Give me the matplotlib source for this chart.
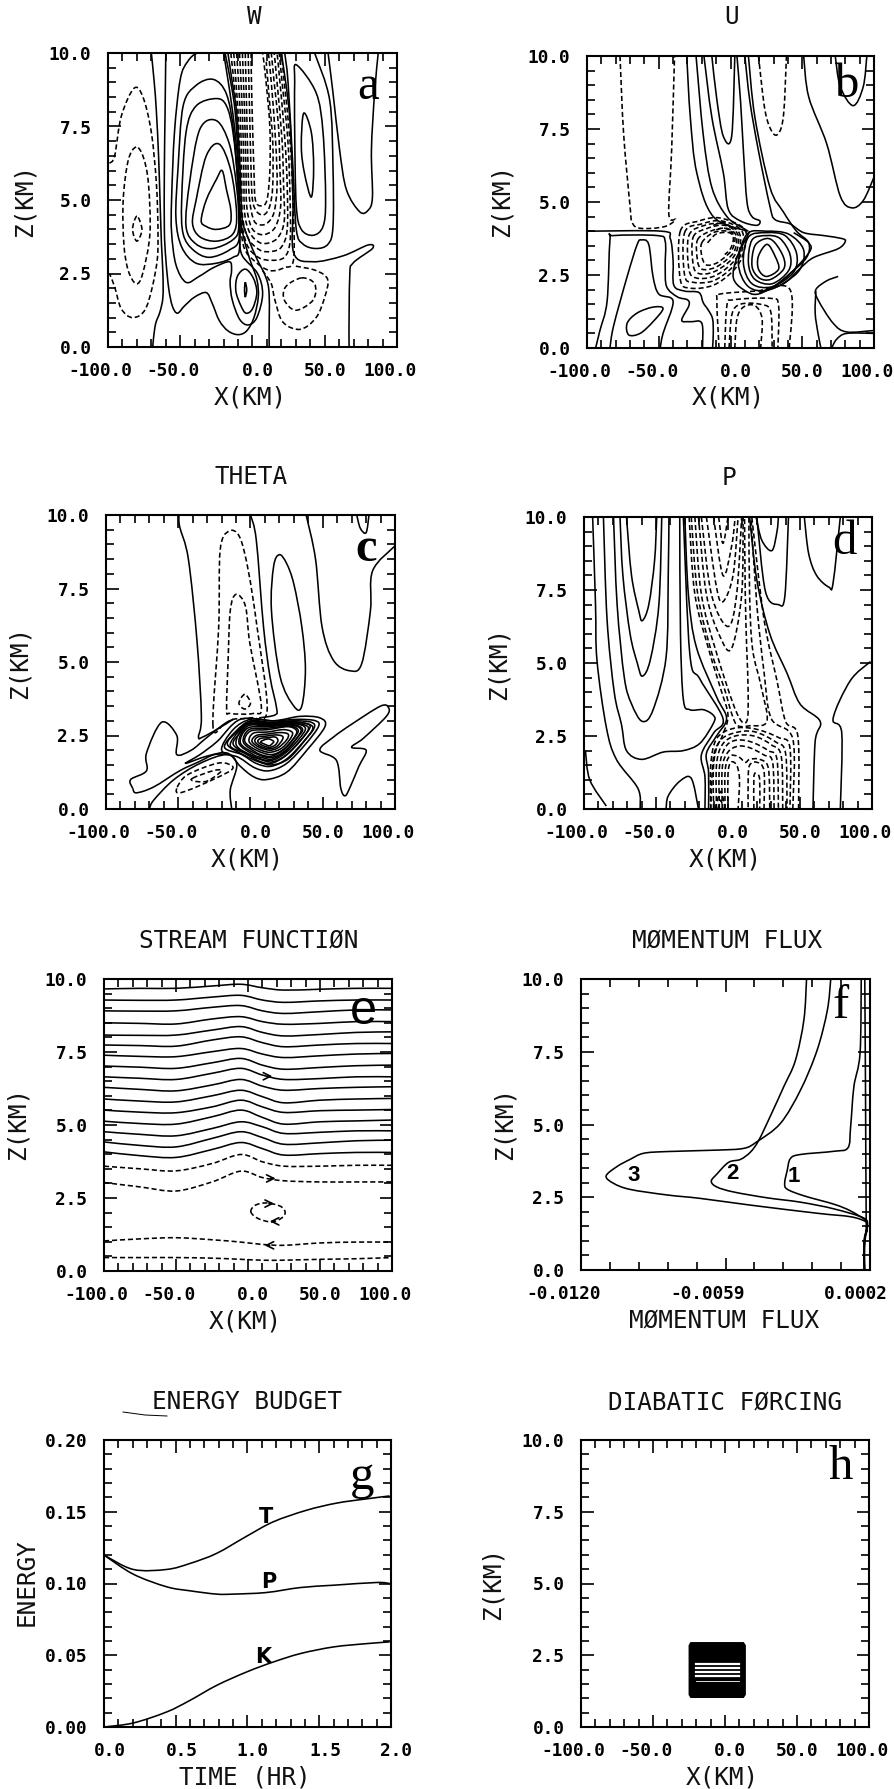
import matplotlib
matplotlib.use("Agg")
import matplotlib.pyplot as plt
from matplotlib.lines import Line2D
from matplotlib.path import Path
from matplotlib.patches import PathPatch
from matplotlib.transforms import ScaledTranslation

# ---------- panel a : W ----------
W_SOLID = [
 [(-70,10),(-68,9),(-66.5,8),(-65,6.5),(-64,5),(-63,3.5),(-62,2.5),(-62,1.7),(-64,1.2),(-67,.8),(-68.5,.3),(-69,0)],
 [(-60,10),(-60.5,8),(-61,6),(-61,4),(-60,3),(-58,2),(-55.5,1.4),(-52,1.15),(-47,1.4),(-40,1.7),(-32,1.85),(-28,1.5),(-23,.9),(-17,.55),(-10,.42),(-4,.55),(1,1),(4,1.7),(3,2.3),(-2,3),(-6,3.7),(-8.5,4.4),(-9,5),(-10,6.5),(-12,8),(-15,9),(-19,10)],
 [(12,0),(11.5,.2),(11.5,1.8),(9,2.4),(3,3),(-3,3.7),(-7,4.3),(-8,5.2),(-9,6.5),(-11,8),(-14,9),(-17,10)],
 [(-27,10),(-38,10),(-45,9.7),(-50,9.1),(-54,7.3),(-56,5),(-56,3.9),(-53,2.8),(-46,2.2),(-37,2.4),(-27,2.7),(-16,2.9),(-14.5,2.6),(-15.5,2.2),(-14,1.6),(-9,.95),(-3,.75),(3,1),(7,1.8),(3.5,2.5),(-7,3.1),(-9,3.7),(-9,4.5),(-10,6.2),(-13.5,7.9),(-18,9.4),(-20,10)],
 [(-27,9.1),(-39,8.9),(-48,8.2),(-51.5,6.1),(-53,4.4),(-49,3.4),(-39,2.85),(-25,2.85),(-13.5,3.05),(-9,3.35),(-9.5,5),(-13,7.3),(-18,8.6),(-27,9.1)],
 [(-25,8.45),(-39,8.2),(-46,7.3),(-49,5),(-48,3.85),(-41,3.3),(-30,3.05),(-16,3.3),(-9,3.75),(-10,5.5),(-13.5,7.3),(-18,8.2),(-25,8.45)],
 [(-25,7.7),(-36.5,7.4),(-43.5,5.6),(-46,4.1),(-39,3.5),(-27.5,3.35),(-13.5,3.65),(-9.5,4.1),(-11,5.45),(-16,6.9),(-25,7.7)],
 [(-23,6.9),(-32,6.5),(-39,5),(-41.5,4.2),(-36.5,3.75),(-25,3.6),(-13.5,3.85),(-11,4.55),(-15,6),(-23,6.9)],
 [(-21,6),(-25,5.7),(-32,5),(-35.5,4.3),(-32,4.1),(-25,4),(-16,4.15),(-15,4.65),(-18,5.35),(-21,6)],
 [(-5,2.65),(-10.5,2.4),(-11.5,1.9),(-8,1.4),(-4.5,1.15),(0,1.3),(3,1.85),(.5,2.35),(-5,2.65)],
 [(-5,2.2),(-5.5,1.95),(-5,1.7),(-4,1.95),(-5,2.2)],
 [(20,10),(25.7,7.85),(28,5),(28.5,3.2),(41.8,2.9),(62.6,3.1),(80,3.47),(83,3.35),(69.5,2.85),(67.3,2.4),(66.8,.2),(67.7,0)],
 [(43,10),(53.4,8.4),(55.7,6.1),(55.7,4.1),(52.3,3.5),(44,3.35),(35,3.5),(30.3,4),(28,6.1),(24.6,9),(22.3,10)],
 [(30.3,9.6),(44,8.65),(48.8,7.3),(50.6,5),(48.8,4.1),(42,3.8),(33.8,4),(30.3,4.8),(29.2,7.3),(29.2,9),(30.3,9.6)],
 [(35.4,7.95),(40.7,7.3),(42.3,6.1),(40.7,5.1),(36,5.9),(33.8,6.8),(35.4,7.95)],
 [(52.3,10),(55.7,8.65),(60.3,6.7),(65,5.35),(74.2,4.6),(80,4.65),(83,5.1),(82.3,6.7),(84.5,8.65),(87,10)],
]
W_DASH = [
 [(-99,6.25),(-95.4,6.5),(-90.8,7.85),(-82,8.8),(-75.8,8.5),(-70,7.3),(-66.5,5.55),(-65.4,3.85),(-66.5,2.75),(-73.5,1.35),(-82.7,1),(-90.8,1.3),(-95.4,2.05),(-99,2.5)],
 [(-80.5,6.8),(-86,6.35),(-89.5,5),(-89,3.5),(-86,2.6),(-80.5,2.15),(-76,2.5),(-71,3.85),(-72,5.55),(-75.5,6.45),(-80.5,6.8)],
 [(-80,4.45),(-83,4),(-80,3.6),(-76.5,4),(-80,4.45)],
 [(30,2.75),(44,2.6),(52,2.3),(50,1.7),(44,1),(33,.6),(21,.85),(15.5,1.6),(13,2.15),(7,2.6)],
 [(34,2.35),(43,2.15),(42,1.6),(30,1.25),(22,1.6),(23,2.05),(34,2.35)],
 [(-15,10),(-11,8),(-9,6),(-8.5,4.5),(-6,3.4),(2,2.9),(12,2.6),(22,2.7),(28.5,3),(28,5),(26,7),(22,9),(20,10)],
 [(-13,10),(-10,8),(-8.5,6),(-8,4.5),(-4,3.5),(4,3.05),(13,2.95),(22,3.05),(26,3.6),(26,5),(24.5,7),(20.5,9),(18.5,10)],
 [(-11,10),(-8.5,8),(-7.5,6),(-7,4.5),(-3,3.7),(5,3.3),(13,3.25),(20,3.4),(24,4),(24,5.5),(22.5,7),(19,9),(17,10)],
 [(-9,10),(-7,8),(-6,6),(-5.5,4.6),(-2,3.9),(5,3.55),(12,3.55),(18,3.75),(22,4.3),(21.5,5.5),(20.5,7),(17,9),(15,10)],
 [(-7,10),(-5.5,8),(-4.5,6),(-4,4.8),(-1,4.1),(4,3.85),(10,3.85),(16,4.1),(19.5,4.8),(19,6),(18,7.5),(15,9),(13,10)],
 [(-5,10),(-4,8),(-3,6),(-2,5),(1,4.3),(6,4.15),(11,4.25),(15,4.6),(17,5.5),(16,7),(13,9),(11,10)],
 [(-3,10),(-2,8),(-1,6),(0,5),(3,4.6),(8,4.5),(12,4.8),(14,5.5),(14,7),(11.5,8.5),(9.5,9.7)],
 [(-1,10),(-.5,8.5),(1,6),(2,5),(6,4.8),(10,5),(12,6),(12,7.5),(9,9.2),(7,10)],
]

# ---------- panel b : U ----------
U_SOLID = [
 [(-100,4),(-48,4),(-42,3.75),(-40,3),(-39.5,2.15),(-32,1.95),(-22,1.9),(-19,1.55),(-15.5,1.3),(-12.5,1),(-12,.5),(-12.5,0)],
 [(-94,0),(-91,.6),(-86,1.6),(-84,3.7),(-81.5,3.85),(-51,3.85),(-45.5,3.65),(-45.5,2.8),(-44.5,2.1),(-37,1.75),(-30,1.65),(-29,1.45),(-34,.95),(-28,.9),(-20,.85),(-19.5,0)],
 [(-84,0),(-81.5,.75),(-72,2.45),(-65,3.55),(-62,3.7),(-57,3.55),(-54,2.45),(-50,1.85),(-40,1.6),(-47,.5),(-49,0)],
 [(-47,1.35),(-54,1.4),(-65,1.2),(-72,.85),(-71,.45),(-63,.5),(-54,.9),(-47,1.35)],
 [(-30.5,10),(-28,7.9),(-23.5,6),(-12,4.5),(11.5,4)],
 [(-24,10),(-19,7.3),(-13,5.5),(-2.5,4.5),(9,4.1),(12.5,4)],
 [(-18.5,10),(-13,7.9),(-5,6),(-1.5,4.75),(7,4.35),(18,4.2),(20.5,4.35),(15,4.5),(11.5,5),(9,6.75),(7,8.45),(4.5,10)],
 [(-13,10),(-9.5,8.5),(-5,7.25),(.8,7.25),(3,10)],
 [(10,10),(13.5,8.45),(19.5,6.75),(27.5,4.85),(31,4.4),(41.5,4.25),(51,3.95),(65,3.85),(77.5,3.75),(80,3.65),(75,3.4),(58,3.1),(49,2.75),(37,2.2),(23,1.95)],
 [(12.5,10),(17,7.9),(27.5,5.5),(37,4.65),(46,4),(54.5,3.6),(53,3.1),(41.5,2.55),(30,2.1),(20,1.9)],
 [(25.5,3.55),(19.5,3.15),(19.5,2.7),(25,2.45),(33.5,2.7),(31,3.15),(25.5,3.55)],
 [(25,3.75),(17,3.5),(15,2.8),(20,2.4),(28,2.35),(37,2.7),(37,3.1),(31,3.6),(25,3.75)],
 [(25,3.85),(15,3.7),(12.5,2.9),(17,2.35),(29,2.2),(40.5,2.65),(41.5,3.2),(34.5,3.75),(25,3.85)],
 [(25,3.95),(12.5,3.8),(9,2.9),(15,2.2),(29,2.1),(44,2.6),(46,3.25),(38,3.85),(25,3.95)],
 [(25,4),(11.5,3.9),(5.5,2.9),(12.5,2.1),(27.5,2),(47,2.6),(51,3.35),(40.5,3.9),(25,4)],
 [(13.5,4),(4.5,3.1),(2,2.4),(9,2),(19.5,1.85),(37,2.35),(54.5,3.25),(54.5,3.6),(44,3.95)],
 [(51,10),(54.5,8.6),(67,7),(76.5,5.2),(84.5,4.8),(92.5,5.05),(100,5.85)],
 [(95,10),(92.5,8.95),(85.5,8.3),(76.5,8.95),(73,10)],
 [(75,2.45),(67,2.3),(59.5,2),(61,1.65),(71.5,.85),(81,.55),(100,.6)],
 [(100,.5),(81,.5),(74,.3),(70.5,0)],
 [(59.5,1.95),(59,1.2),(61,.5),(63,0)],
]
U_DASH = [
 [(-77,10),(-74.5,7.35),(-70,4.85),(-68.5,4.3),(-63,4.1),(-46.5,4.15),(-38.5,4.4),(-43,4.6),(-41,6.8),(-39,10)],
 [(19.5,10),(24,8.15),(29,7.4),(33.5,7.35),(37,8),(39,10)],
 [(-8,0),(-9.5,1.65),(-7,1.85),(18,1.95),(41.5,2),(41,0)],
 [(-4,0),(-2.5,1.45),(2,1.65),(28,1.7),(33.5,1.45),(33,0)],
 [(-1,0),(1,1.15),(7,1.5),(20.5,1.5),(28,1.25),(29,0)],
 [(3,0),(4.5,1),(9,1.4),(17,1.45),(22,1),(21,0)],
 [(-35,4),(-22,4.35),(-7,4.45),(10,4.05),(9,3.25),(2,2.65),(-12,2.15),(-28,2.05),(-35,2.35),(-35,4)],
 [(-32,3.95),(-20,4.25),(-6,4.35),(8,4),(7.5,3.25),(1,2.75),(-12,2.3),(-26,2.25),(-32,2.5),(-32,3.95)],
 [(-29,3.85),(-18,4.2),(-5,4.25),(6,3.95),(6,3.3),(0,2.85),(-12,2.45),(-24,2.4),(-29,2.7),(-29,3.85)],
 [(-26,3.8),(-16,4.1),(-4,4.2),(5,3.9),(4.5,3.35),(-1,2.95),(-12,2.6),(-22,2.55),(-26,2.85),(-26,3.8)],
 [(-23,3.7),(-14,4),(-3,4.1),(4,3.85),(3,3.35),(-2,3.05),(-11,2.75),(-20,2.7),(-23,3),(-23,3.7)],
 [(-20,3.6),(-12,3.95),(-2,4),(3,3.8),(1.5,3.4),(-3,3.15),(-10,2.9),(-17,2.85),(-20,3.15),(-20,3.6)],
 [(-16,3.6),(-10,3.9),(-1,3.95),(2,3.75),(0,3.4),(-4,3.2)],
 [(-12,4.2),(-5,4.3),(3,4.05)],
 [(-10,4.05),(-4,4.1),(2,3.95)],
]

# ---------- panel c : THETA ----------
THETA_SOLID = [
 [(-49.5,10),(-49,9.6),(-43,8.5),(-37,5.7),(-34,3.15),(-36,2.45),(-33,2.45),(-23.5,2.7),(-12,3.05)],
 [(0,10),(4,9.15),(9,6.2),(13.5,4.5),(18,3.45),(17,3.2),(6,3.1)],
 [(20,8.65),(16,8.25),(14.5,6.75),(20.5,4.5),(30,3.5),(35.5,3.5),(38,4.75),(35.5,6.2),(30,7.65),(25,8.35),(20,8.65)],
 [(38.5,10),(45,8.5),(49.5,6.2),(57.5,5.05),(69,4.7),(77,4.95),(83,6.75),(84.5,8.1),(100,8.95)],
 [(73.5,10),(76,9.55),(80,9.4),(82,10)],
 [(90,3.5),(95.5,3.45),(94,3.15),(78,2.4),(70,2.1),(80,2),(75,1.45),(69,.75),(65.5,.45),(62.5,.7),(59.5,1.65),(48,2),(57.5,2.45),(70.5,2.9),(90,3.5)],
 [(-81.5,.7),(-83,1),(-72,1.3),(-72,1.9),(-61.5,2.95),(-51,2.5),(-51,1.85),(-41,2),(-31,2.4),(-18,2.9),(-12,3.05)],
 [(-81.5,.7),(-79,.55),(-67,.75),(-49,1.3),(-36,1.6),(-25,1.85),(-15,1.85)],
 [(-70,0),(-67,.3),(-53,1),(-35,1.55),(-16.5,1.85),(-9.5,1.5),(-14,.65),(-13,0)],
 [(-45,1.55),(-30,1.8),(-16,1.9),(-7,1.45),(2,1.1),(11,1),(25,1.25),(39,2),(51.5,2.8),(48,3.1),(34,3.15),(16,3),(-7,3.05),(-23,2.3),(-35,1.85),(-45,1.55)],
 [(-20,2),(-8,1.75),(3,1.4),(13,1.3),(25,1.55),(38,2.2),(47,2.8),(45,3),(33,3.05),(16,3),(0,3.05),(-12,2.7),(-20,2)],
 [(-18,2.1),(-6,1.85),(4,1.55),(14,1.45),(25,1.7),(36,2.25),(44,2.75),(42,2.95),(30,3),(14,2.95),(0,3),(-10,2.65),(-18,2.1)],
 [(-16,2.2),(-4,1.82),(6,1.6),(15,1.5),(26,1.7),(37,2.3),(43,2.8),(30,2.97),(14,2.93),(0,2.97),(-9,2.65),(-16,2.2)],
 [(-14,2.15),(-4,1.9),(5,1.65),(14,1.55),(24,1.8),(34,2.3),(41,2.75),(39,2.9),(28,2.95),(12,2.9),(0,2.95),(-8,2.65),(-14,2.15)],
 [(-12,2.2),(-2,1.85),(6,1.7),(15,1.6),(25,1.85),(35,2.35),(40,2.78),(29,2.92),(13,2.88),(-1,2.9),(-7,2.6),(-12,2.2)],
 [(-10,2.2),(2,1.8),(14,1.65),(24,1.9),(33,2.35),(38,2.75),(30,2.9),(12,2.85),(-3,2.85),(-10,2.2)],
 [(-8,2.25),(2,1.85),(8,1.75),(15,1.7),(24,1.95),(32,2.4),(36,2.72),(28,2.88),(12,2.83),(-2,2.82),(-8,2.25)],
 [(-7,2.25),(3,1.9),(14,1.75),(23,1.95),(31,2.35),(35,2.7),(28,2.85),(12,2.8),(-2,2.75),(-7,2.25)],
 [(-5,2.28),(3,1.95),(9,1.82),(15,1.8),(23,2.02),(30,2.4),(33,2.68),(27,2.82),(12,2.75),(-1,2.7),(-5,2.28)],
 [(-4,2.3),(4,2),(14,1.85),(22,2),(29,2.35),(32,2.65),(26,2.8),(12,2.7),(0,2.65),(-4,2.3)],
 [(-1,2.3),(5,2.05),(13,1.93),(21,2.05),(27,2.35),(29,2.6),(23,2.7),(12,2.62),(2,2.58),(-1,2.3)],
 [(1,2.3),(6,2.1),(13,2),(19,2.08),(25,2.35),(26,2.55),(20,2.6),(12,2.55),(4,2.5),(1,2.3)],
 [(3,2.3),(7,2.13),(13,2.05),(18,2.12),(22,2.35),(22,2.48),(17,2.52),(11,2.48),(5,2.45),(3,2.3)],
 [(5,2.3),(8,2.17),(13,2.1),(17,2.17),(19,2.33),(17,2.45),(11,2.42),(7,2.4),(5,2.3)],
 [(7,2.28),(10,2.2),(13,2.15),(15,2.22),(16,2.3),(13,2.38),(10,2.36),(7,2.28)],
]
THETA_DASH = [
 [(-26,2.85),(-22,6.2),(-21,8.8),(-15,9.45),(-7.5,9.25),(-1.5,8.1),(4.5,6.2),(11.5,3.35),(0,3.1),(-12,3.05),(-19,2.85),(-26,2.85)],
 [(-16.5,3.4),(-15.5,5.05),(-14,6.75),(-10,7.3),(-3.5,6.9),(-.5,5.65),(7.5,3.5),(2,3.25),(-14,3.25),(-16.5,3.4)],
 [(-4,3.9),(-8,3.6),(-4,3.4),(0,3.6),(-4,3.9)],
 [(-51,.7),(-49,.55),(-35,.8),(-14,1.3),(-14,1.5),(-23.5,1.55),(-44,1.15),(-51,.7)],
 [(-40,1.05),(-26,1.3),(-20,1.3),(-30,.95),(-39,.95),(-40,1.05)],
]

# ---------- panel d : P ----------
P_SOLID = [
 [(-94,10),(-92,7),(-91,5.1),(-84.5,2.8),(-77.5,1.7),(-62.5,.7),(-61,0)],
 [(-86.5,10),(-84,6.5),(-79,4),(-74,2.9),(-70.5,2),(-60,1.7),(-45,1.95),(-31,2),(-19.5,2.25),(-10,2.95),(-10,3.2),(-17,3.4),(-26.5,3.4),(-31,3.75),(-33,6),(-33.5,10)],
 [(-79.5,10),(-77,7),(-72,4.5),(-67,3.6),(-59.5,3),(-52,3.4),(-43,5.2),(-41.5,8),(-41,10)],
 [(-75,10),(-73,8),(-68,6),(-63,5),(-59.5,4.55),(-54,5.1),(-48,7),(-46,10)],
 [(-70.5,10),(-67,8),(-62,6.8),(-59.5,6.45),(-55,7),(-51,8.5),(-49.5,10)],
 [(-99,2),(-96,1),(-84.5,.1)],
 [(-43,0),(-41.5,.45),(-33.5,.95),(-25.5,1.05),(-20.5,0)],
 [(-16,0),(-16,1.1),(-18.5,1.85),(-10,2.6),(-3.5,3.1),(-19.5,4.45),(-26.5,5.3),(-31,10)],
 [(-13.5,0),(-13.5,1.25),(-15,1.9),(-8,2.5),(-1,3.1),(-8,3.85),(-22,5.55),(-27.5,7.35),(-30,10)],
 [(15,10),(20,7.85),(29,6),(41,4.65),(50,3.6),(64,3),(60.5,2.3),(59,0)],
 [(19.5,10),(23.5,9.2),(30.5,8.85),(34,9.5),(35,10)],
 [(20,10),(26,7.45),(35,7),(39.5,7.3),(42,10)],
 [(53,10),(56,8.75),(61.5,8),(70,7.6),(73,7.75),(78,10)],
 [(99,5.05),(85,4.4),(73,3.1),(79,2.6),(78,0)],
]
P_DASH = [
 [(-6.5,10),(-3.5,9.1),(0,10)],
 [(-10,10),(-3.5,8),(2.5,9),(5,10)],
 [(-15,10),(-8,7.6),(-3.5,7.1),(3.5,8),(7,10)],
 [(-18.5,10),(-11.5,7.35),(0,6.25),(6,7.35),(9.5,10)],
 [(-20.5,10),(-15,7.35),(-5.5,5.9),(2.5,5.5),(9.5,7.35),(10.5,10)],
 [(-23,10),(-18.5,7.35),(-8,5.35),(6,3.3),(13,3),(14,4),(13,5.5),(12,7.35),(11.5,10)],
 [(-25.5,10),(-21,7.35),(-11,5.3),(-3,4.2),(3,3.2),(7,2.85),(15,2.85),(27,3),(23,4.2),(17,5.5),(15,7.35),(14.5,10)],
 [(-27,10),(-23,7.35),(-13,5.4),(-5,4.1),(0,3.2),(-4,2.5),(-10,1.8),(-12,0)],
 [(49,0),(48.5,2.5),(40,3),(34,4.4),(25,6.5),(16.5,10)],
 [(45,0),(45,2.4),(30,3.1),(25,4.7),(20,7),(16,10)],
 [(-12,0),(-12,1.5),(-8,2.4),(3,2.75),(18,2.75),(35,2.45),(43,2.1),(43,0)],
 [(-10,0),(-10,1.5),(-6,2.3),(4,2.6),(18,2.65),(33,2.3),(40,1.9),(41,0)],
 [(-8,0),(-8,1.5),(-4,2.2),(5,2.5),(18,2.5),(30,2.2),(37,1.8),(38,0)],
 [(-6,0),(-6,1.4),(-2,2.1),(5,2.35),(16,2.3),(28,2),(34,1.7),(35,0)],
 [(-4,0),(-4,1.4),(0,1.95),(7,2.15),(15,2.1),(25,1.85),(31,1.6),(32,0)],
 [(-2,0),(-2,1.3),(1,1.8),(7,1.8),(12,1.6),(15,1.7),(22,1.7),(28,1.4),(29,0)],
 [(0,0),(0,1.2),(2,1.6),(6,1.5),(8,1),(7,0)],
 [(25,0),(25,1.3),(20,1.6),(15,1.5),(14,1),(14,0)],
 [(18,0),(18,1.1),(20,1.2),(22,1),(22,0)],
 [(-9,0),(-5,.6),(-2,0)],
 [(-7,0),(-5,.3),(-3.5,0)],
]

# ---------- panel e : STREAM FUNCTION ----------
STREAM_X = [-100,-75,-50,-25,-5,10,25,50,75,100]
STREAM_SOLID = [
 [9.66,9.68,9.68,9.76,9.82,9.70,9.62,9.65,9.68,9.68],
 [9.28,9.27,9.28,9.38,9.44,9.28,9.20,9.25,9.28,9.28],
 [8.91,8.90,8.91,9.03,9.09,8.91,8.82,8.88,8.94,8.94],
 [8.50,8.48,8.46,8.63,8.71,8.54,8.45,8.48,8.54,8.54],
 [8.08,8.07,8.08,8.25,8.37,8.17,8.05,8.10,8.17,8.19],
 [7.74,7.72,7.70,7.91,8.02,7.82,7.68,7.74,7.79,7.79],
 [7.39,7.35,7.34,7.51,7.62,7.43,7.31,7.37,7.43,7.45],
 [7.02,6.98,6.94,7.13,7.28,7.05,6.91,6.97,7.03,7.05],
 [6.65,6.60,6.56,6.77,6.94,6.71,6.56,6.59,6.65,6.65],
 [6.29,6.22,6.17,6.37,6.56,6.33,6.19,6.25,6.29,6.31],
 [5.89,5.82,5.79,6.00,6.19,5.97,5.76,5.85,5.89,5.91],
 [5.51,5.44,5.42,5.62,5.85,5.62,5.43,5.49,5.51,5.53],
 [5.13,5.05,5.03,5.28,5.51,5.26,5.03,5.11,5.14,5.17],
 [4.77,4.68,4.63,4.88,5.11,4.94,4.71,4.75,4.80,4.80],
 [4.42,4.30,4.25,4.54,4.77,4.57,4.34,4.39,4.46,4.48],
 [4.08,3.95,3.89,4.16,4.40,4.19,3.97,4.02,4.06,4.06],
]
STREAM_DASH = [
 [3.59,3.50,3.43,3.68,3.99,3.74,3.59,3.59,3.62,3.62],
 [3.03,2.88,2.74,3.05,3.42,3.20,3.09,3.05,3.05,3.05],
 [1.03,1.10,1.14,1.07,0.99,0.91,0.88,0.96,0.99,0.99],
 [0.46,0.46,0.46,0.44,0.40,0.37,0.37,0.40,0.42,0.46],
]
STREAM_LOOP = [(2,2.02),(5,2.25),(13.1,2.33),(22.4,2.22),(25.8,2.02),(23.5,1.82),(16.6,1.68),(7.3,1.79),(2,2.02)]
STREAM_ARROWS = [(15.4,6.67,1),(17.7,3.17,1),(16.6,2.31,1),(16.6,1.70,-1),(13,0.88,-1)]

# ---------- panel f : MOMENTUM FLUX ----------
FLUX_3 = [(-.00146,9.97),(-.0016,8.93),(-.00203,7.56),(-.00273,6.19),(-.00358,5.04),(-.00457,4.41),(-.00513,4.18),(-.00626,4.12),(-.00838,4.07),(-.00936,4.01),(-.00993,3.8),(-.01049,3.55),(-.01094,3.23),(-.01063,2.98),(-.00993,2.77),(-.00838,2.58),(-.00696,2.46),(-.00485,2.23),(-.00203,1.95),(-.00062,1.83),(.00002,1.66),(.00009,1.49),(-.00001,1.03),(-.00005,.5),(-.00005,.03)]
FLUX_2 = [(-.00248,9.97),(-.00259,8.6),(-.00295,7.2),(-.00344,6.3),(-.004,5.3),(-.0045,4.45),(-.00485,4.05),(-.00527,3.8),(-.00577,3.7),(-.00626,3.3),(-.0065,3.05),(-.00626,2.85),(-.00555,2.68),(-.00414,2.48),(-.00273,2.33),(-.00132,2.1),(-.00005,1.78),(.00007,1.49),(-.00003,1.03),(-.00006,.5),(-.00004,.03)]
FLUX_1 = [(-.00017,9.97),(-.00022,7.45),(-.00048,6.3),(-.00062,4.9),(-.00073,4.2),(-.00132,4.08),(-.00273,3.97),(-.00316,3.83),(-.0033,3.4),(-.0034,3.0),(-.0033,2.78),(-.00259,2.55),(-.00132,2.26),(-.00062,2.03),(.00002,1.7),(.00006,1.49),(-.00002,1.03),(-.00003,.5),(-.00003,.03)]
FLUX_0 = [(-.00002,9.97),(.00001,6.3),(.00004,1.7),(.00008,1.49),(-.00005,1.03),(-.00005,.5),(-.00002,.03)]

# ---------- panel g : ENERGY BUDGET ----------
ENERGY_T_X = [0,.204,.437,.6,.785,.995,1.18,1.41,1.62,1.83,1.99]
ENERGY_T = [.1198,.1098,.1098,.114,.121,.133,.143,.151,.156,.159,.161]
ENERGY_P_X = [0,.204,.437,.6,.785,.9,1.13,1.37,1.6,1.9,1.99]
ENERGY_P = [.1198,.1065,.0977,.0949,.0926,.0926,.0937,.0972,.0988,.1007,.1]
ENERGY_K_X = [0,.204,.437,.6,.785,.995,1.18,1.37,1.6,1.83,1.99]
ENERGY_K = [0,.0028,.0105,.0186,.029,.0384,.0453,.0512,.0558,.0581,.0593]

# ---------- panel h : DIABATIC FORCING ----------
HEAT_X = [-24,-25.3,-25.3,-24,13,14.5,14.5,13]
HEAT_Z = [2.96,2.85,1.12,1.01,1.01,1.12,2.85,2.96]
HEAT_GAP_Z = [2.2,2.05,1.91,1.79]
HEAT_GAP_X = [-20,9.4]
HEAT_THIN_Z = 1.59

XT_KM = [-100,-50,0,50,100]
XT_KM_LABELS = ["-100.0","-50.0","0.0","50.0","100.0"]
ZT = [0,2.5,5,7.5,10]
ZT_LABELS = ["0.0","2.5","5.0","7.5","10.0"]

W, H = 895, 1789
fig = plt.figure(figsize=(W/100, H/100), dpi=100)
MONO = "DejaVu Sans Mono"
LW = 1.15
DASHES = (0, (3.2, 1.8))

def frac(x, y):
    return x / W, 1 - y / H

def panel(box, xlim, ylim, xmaj, xmin, ymaj, ymin, xlabels, ylabels, xshift):
    l, r, t, b = box
    ax = fig.add_axes([l/W, 1-b/H, (r-l)/W, (b-t)/H])
    ax.set_xlim(*xlim); ax.set_ylim(*ylim)
    ax.set_xticks(xmaj); ax.set_xticks(xmin, minor=True)
    ax.set_yticks(ymaj); ax.set_yticks(ymin, minor=True)
    ax.set_xticklabels(xlabels, family=MONO, fontsize=12.8, weight="bold")
    ax.set_yticklabels(ylabels, family=MONO, fontsize=12.8, weight="bold")
    ax.tick_params(which="major", direction="in", length=9, width=1.2, top=True, right=True, pad=9)
    ax.tick_params(which="minor", direction="in", length=5.5, width=1.2, top=True, right=True)
    ax.tick_params(axis="y", which="major", pad=12)
    ax.tick_params(axis="x", which="major", pad=11)
    for s in ax.spines.values():
        s.set_linewidth(1.5)
    for lab, dx in zip(ax.get_xticklabels(), xshift):
        lab.set_transform(lab.get_transform() + ScaledTranslation(dx/100, 0, fig.dpi_scale_trans))
    return ax

def curve(ax, pts, dashed=False):
    """Draw a curve through the read points, with Bezier segments between them."""
    n = len(pts)
    closed = pts[0] == pts[-1]
    verts = [pts[0]]
    codes = [Path.MOVETO]
    for i in range(n - 1):
        p0 = pts[i-1] if i > 0 else (pts[-2] if closed else pts[i])
        p1, p2 = pts[i], pts[i+1]
        p3 = pts[i+2] if i + 2 < n else (pts[1] if closed else pts[i+1])
        c1 = (p1[0] + (p2[0]-p0[0])/6, p1[1] + (p2[1]-p0[1])/6)
        c2 = (p2[0] - (p3[0]-p1[0])/6, p2[1] - (p3[1]-p1[1])/6)
        verts += [c1, c2, p2]
        codes += [Path.CURVE4]*3
    ax.add_patch(PathPatch(Path(verts, codes), fill=False, edgecolor="k", lw=LW,
                           ls=DASHES if dashed else "-", capstyle="butt"))

def lines(ax, curves, dashed=False):
    for c in curves:
        curve(ax, c, dashed)

def words(x, y, s, size=16.8, rot=0):
    fx, fy = frac(x, y)
    fig.text(fx, fy, s, family=MONO, fontsize=size, rotation=rot, ha="center", va="center", color="#111111")

def letter(ax, x, y, s, family="Liberation Serif", weight="normal"):
    ax.text(x, y, s, family=family, fontsize=35, weight=weight, ha="center", va="center", color="k", zorder=5)

km10 = list(range(-100, 101, 10))
z05 = [i*0.5 for i in range(21)]
KM_SHIFT = [-8, -7, 5, 0, -7]

BOXES = {
 "a": (108,397,53,347), "b": (587,874,56,348), "c": (106,395,515,809), "d": (584,872,517,809),
 "e": (104,392,979,1271), "f": (581,870,979,1270), "g": (104,391,1440,1727), "h": (581,869,1440,1727),
}
def kmpanel(k):
    return panel(BOXES[k], (-100,100), (0,10), XT_KM, km10, ZT, z05, XT_KM_LABELS, ZT_LABELS, KM_SHIFT)

a = kmpanel("a"); lines(a, W_SOLID); lines(a, W_DASH, True); letter(a, 80, 8.84, "a")
b = kmpanel("b"); lines(b, U_SOLID); lines(b, U_DASH, True); letter(b, 81, 9.0, "b")
c = kmpanel("c"); lines(c, THETA_SOLID); lines(c, THETA_DASH, True); letter(c, 80, 8.85, "c", weight="bold")
d = kmpanel("d"); lines(d, P_SOLID); lines(d, P_DASH, True); letter(d, 81, 9.15, "d")

e = kmpanel("e")
for zs in STREAM_SOLID:
    curve(e, list(zip(STREAM_X, zs)))
for zs in STREAM_DASH:
    curve(e, list(zip(STREAM_X, zs)), True)
curve(e, STREAM_LOOP, True)
for ax_, az_, sgn in STREAM_ARROWS:
    e.annotate("", xy=(ax_+sgn*1.5, az_), xytext=(ax_-sgn*2, az_),
               arrowprops=dict(arrowstyle="->", color="k", lw=1.2, mutation_scale=13, shrinkA=0, shrinkB=0))
letter(e, 80, 8.88, "e", family="Liberation Sans")

FX_MIN = -0.012; FX_MAX = 0.0002
fstep = (FX_MAX - FX_MIN) / 10
f = panel(BOXES["f"], (FX_MIN, FX_MAX), (0,10), [FX_MIN, -0.0059, FX_MAX],
          [FX_MIN + i*fstep for i in range(11)], ZT, z05, ["-0.0120","-0.0059","0.0002"], ZT_LABELS, [-17, -18, -14])
for fl in (FLUX_3, FLUX_2, FLUX_1, FLUX_0):
    curve(f, fl)
for x_, z_, s_ in [(-.00979,3.26,"3"),(-.00562,3.3,"2"),(-.00302,3.2,"1")]:
    f.text(x_, z_, s_, family="Liberation Sans", weight="bold", fontsize=16, ha="center", va="center")
letter(f, -.00102, 9.07, "f")

g = panel(BOXES["g"], (0,2), (0,.2), [0,.5,1,1.5,2], [i*.1 for i in range(21)],
          [0,.05,.1,.15,.2], [i*.01 for i in range(21)],
          ["0.0","0.5","1.0","1.5","2.0"], ["0.00","0.05","0.10","0.15","0.20"], [6, 6, 5, 6, 5])
curve(g, list(zip(ENERGY_T_X, ENERGY_T)))
curve(g, list(zip(ENERGY_P_X, ENERGY_P)))
curve(g, list(zip(ENERGY_K_X, ENERGY_K)))
for x_, y_, s_ in [(1.13,.146,"T"),(1.15,.101,"P"),(1.11,.049,"K")]:
    g.text(x_, y_, s_, family="DejaVu Sans", weight="bold", fontsize=15, ha="center", va="center")
letter(g, 1.795, .174, "g")
fig.add_artist(Line2D([123/W, 145/W, 167/W], [1-1412/H, 1-1415/H, 1-1416/H], color="k", lw=0.7))

h = kmpanel("h")
h.fill(HEAT_X, HEAT_Z, color="k", lw=0)
for z_ in HEAT_GAP_Z:
    h.plot(HEAT_GAP_X, [z_, z_], color="white", lw=1.6)
h.plot(HEAT_GAP_X, [HEAT_THIN_Z, HEAT_THIN_Z], color="white", lw=0.6)
letter(h, 80, 9.05, "h")

for x_, y_, s_ in [(254,17,"W"),(732,17,"U"),(251,477,"THETA"),(729,478,"P"),(249,941,"STREAM FUNCTIØN"),
                   (727,941,"MØMENTUM FLUX"),(247,1402,"ENERGY BUDGET"),(725,1403,"DIABATIC FØRCING")]:
    words(x_, y_, s_, size=17.6)
for x_, y_, s_ in [(250,397,"X(KM)"),(728,398,"X(KM)"),(247,860,"X(KM)"),(725,860,"X(KM)"),(245,1322,"X(KM)"),
                   (724,1320,"MØMENTUM FLUX"),(245,1777,"TIME (HR)"),(722,1777,"X(KM)")]:
    words(x_, y_, s_, size=17.6)
for x_, y_, s_ in [(25,200,"Z(KM)"),(502,200,"Z(KM)"),(20,662,"Z(KM)"),(499,663,"Z(KM)"),(18,1123,"Z(KM)"),
                   (505,1123,"Z(KM)"),(27,1582,"ENERGY"),(493,1583,"Z(KM)")]:
    words(x_, y_, s_, size=17.6, rot=90)

fig.savefig("out.png", dpi=100, facecolor="white")
